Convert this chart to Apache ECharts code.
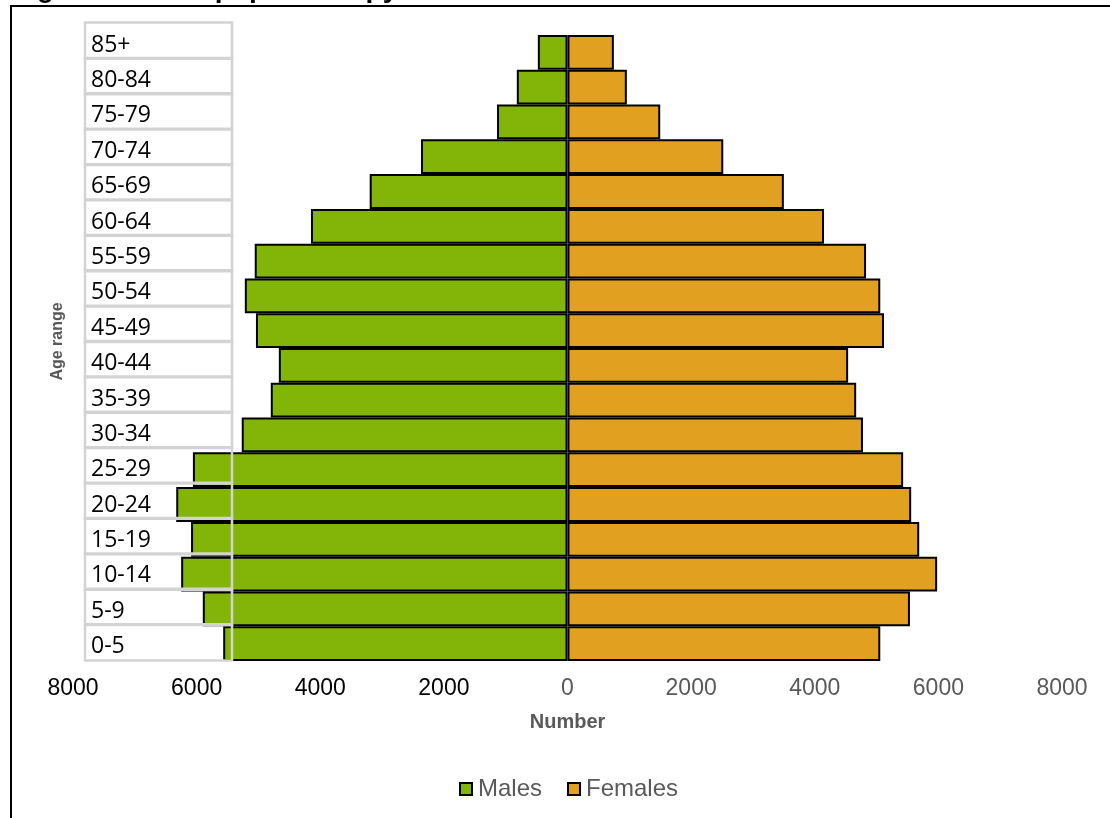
<!DOCTYPE html>
<html>
<head>
<meta charset="utf-8">
<title>Ward population pyramid</title>
<script src="https://cdn.jsdelivr.net/npm/echarts@6/dist/echarts.min.js"></script>
<style>
  html, body { margin: 0; padding: 0; background: #fff; }
  #chart { width: 1110px; height: 818px; }
</style>
</head>
<body>
<div id="chart"></div>
<script>
// Age bands, youngest first (category axis runs bottom to top)
const ageBands = ['0-5', '5-9', '10-14', '15-19', '20-24', '25-29', '30-34', '35-39',
  '40-44', '45-49', '50-54', '55-59', '60-64', '65-69', '70-74', '75-79', '80-84', '85+'];

// Population counts per age band
const males = [5570, 5900, 6250, 6090, 6330, 6060, 5270, 4800,
  4670, 5040, 5220, 5060, 4150, 3200, 2370, 1140, 820, 480];
const females = [5060, 5540, 5980, 5690, 5560, 5430, 4780, 4670,
  4540, 5120, 5060, 4830, 4150, 3500, 2520, 1500, 960, 750];

// Value axis ticks (absolute counts either side of zero)
const tickMin = -8000;
const tickMax = 8000;
const tickStep = 2000;

const chart = echarts.init(document.getElementById('chart'), null, { renderer: 'canvas' });

const option = {
  backgroundColor: '#ffffff',
  animation: false,
  title: {
    text: 'Figure 1: Ward population pyramid',
    left: 12,
    top: -25,
    padding: 0,
    textStyle: { fontFamily: 'Liberation Sans', fontWeight: 'bold', fontSize: 28, color: '#000' }
  },
  graphic: [{
    type: 'rect',
    shape: { x: 11, y: 6, width: 1300, height: 1000 },
    style: { fill: 'none', stroke: '#000', lineWidth: 2 },
    silent: true,
    z: 0
  }],
  legend: {
    bottom: 17,
    left: 459,
    padding: 0,
    icon: 'rect',
    itemWidth: 12,
    itemHeight: 12,
    itemGap: 25,
    itemStyle: { borderColor: '#000', borderWidth: 2 },
    textStyle: { fontFamily: 'Liberation Sans', fontSize: 24, color: '#595959', padding: [0, 0, 0, 1] },
    data: ['Males', 'Females']
  },
  grid: [
    { left: 73, right: 48, top: 35, bottom: 157, containLabel: false },
    { left: 73, right: 48, top: 23, bottom: 158, containLabel: false }
  ],
  xAxis: [
    {
      gridIndex: 0,
      type: 'value',
      min: tickMin,
      max: tickMax,
      interval: tickStep,
      name: 'Number',
      nameLocation: 'middle',
      nameGap: 51,
      nameTextStyle: { fontFamily: 'Liberation Sans', fontWeight: 'bold', fontSize: 20, color: '#595959' },
      axisLine: { show: false },
      axisTick: { show: false },
      splitLine: { show: false },
      axisLabel: {
        margin: 16,
        fontFamily: 'Liberation Sans',
        fontSize: 23,
        formatter: v => String(Math.abs(v)),
        color: v => (Number(v) < 0 ? '#000000' : '#595959')
      }
    },
    {
      gridIndex: 1,
      type: 'value',
      min: tickMin,
      max: tickMax,
      show: false
    }
  ],
  yAxis: [
    {
      gridIndex: 0,
      type: 'category',
      data: ageBands,
      axisLine: { show: false },
      axisTick: { show: false },
      axisLabel: { show: false },
      splitLine: { show: false }
    },
    {
      // boxed age-band labels drawn over the bars
      gridIndex: 1,
      type: 'category',
      data: ageBands,
      z: 10,
      name: 'Age range',
      nameLocation: 'middle',
      nameGap: 6,
      nameRotate: 90,
      nameTextStyle: { fontFamily: 'Liberation Sans', fontWeight: 'bold', fontSize: 16, color: '#595959' },
      axisLine: { show: false, onZero: false },
      axisTick: { show: false },
      splitLine: { show: false },
      axisLabel: {
        interval: 0,
        showMinLabel: true,
        showMaxLabel: true,
        hideOverlap: false,
        inside: true,
        margin: 12,
        align: 'left',
        verticalAlign: 'middle',
        formatter: v => '{t|' + v + '}',
        width: 141,
        height: 36.2,
        padding: [0, 0, 0, 6],
        borderColor: '#d3d3d3',
        borderWidth: 2.5,
        rich: {
          t: {
            fontFamily: 'Open Sans',
            fontSize: 23,
            color: '#000',
            lineHeight: 45
          }
        }
      }
    }
  ],
  series: [
    {
      name: 'Males',
      type: 'bar',
      xAxisIndex: 0,
      yAxisIndex: 0,
      data: males.map(v => -v),
      barCategoryGap: 0,
      barGap: '-100%',
      itemStyle: { color: '#82b508', borderColor: '#000', borderWidth: 2 }
    },
    {
      name: 'Females',
      type: 'bar',
      xAxisIndex: 0,
      yAxisIndex: 0,
      data: females,
      barCategoryGap: 0,
      barGap: '-100%',
      itemStyle: { color: '#e2a020', borderColor: '#000', borderWidth: 2 }
    }
  ]
};

chart.setOption(option);
</script>
</body>
</html>
